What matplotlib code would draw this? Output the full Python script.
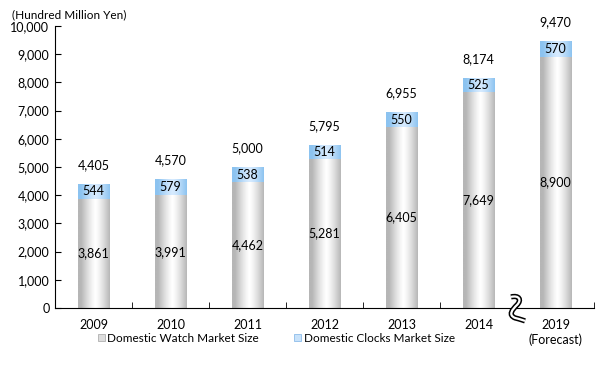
import matplotlib.pyplot as plt
import numpy as np
from matplotlib.patches import Rectangle, PathPatch
from matplotlib.path import Path

plt.rcParams['font.family'] = ['Lato', 'DejaVu Sans']

years = ['2009', '2010', '2011', '2012', '2013', '2014', '2019\n(Forecast)']
watch = [3861, 3991, 4462, 5281, 6405, 7649, 8900]
clocks = [544, 579, 538, 514, 550, 525, 570]
totals = [w + c for w, c in zip(watch, clocks)]

fig = plt.figure(figsize=(6.07, 3.67), dpi=100)
ax = fig.add_axes([0.0906, 0.161, 0.888, 0.768])

x = np.arange(len(years))
width = 0.41

# horizontal gradients: grey/white for watches, blue for clocks
t = np.linspace(0, 1, 256)
prof = np.clip(np.abs(t - 0.55) / 0.45, 0, 1) ** 1.3
grey = np.zeros((1, 256, 3))
for i, (edge, mid) in enumerate(zip((182, 182, 182), (255, 255, 255))):
    grey[0, :, i] = (mid + (edge - mid) * prof) / 255
blue = np.zeros((1, 256, 3))
for i, (edge, mid) in enumerate(zip((140, 195, 240), (215, 235, 255))):
    blue[0, :, i] = (mid + (edge - mid) * prof) / 255

b1 = ax.bar(x, watch, width, color='none', edgecolor='none')
b2 = ax.bar(x, clocks, width, bottom=watch, color='none', edgecolor='none')
for bars, grad in ((b1, grey), (b2, blue)):
    for r in bars:
        x0, y0 = r.get_x(), r.get_y()
        im = ax.imshow(grad, extent=(x0, x0 + r.get_width(), y0, y0 + r.get_height()),
                       aspect='auto', zorder=2, interpolation='bilinear')
        im.set_clip_path(r)

for i in range(len(years)):
    ax.text(x[i], watch[i] / 2, f'{watch[i]:,}', ha='center', va='center', fontsize=9, zorder=4)
    ax.text(x[i], watch[i] + clocks[i] / 2, f'{clocks[i]:,}', ha='center', va='center', fontsize=9, zorder=4)
    ax.annotate(f'{totals[i]:,}', (x[i], totals[i]), xytext=(0, 9), textcoords='offset points',
                ha='center', va='bottom', fontsize=9)

ax.set_xlim(-0.5, len(years) - 0.5)
ax.set_ylim(0, 10000)
ax.set_yticks(np.arange(0, 10001, 1000))
ax.set_yticklabels([f'{v:,}' for v in range(0, 10001, 1000)], fontsize=9)
ax.set_xticks(x)
ax.set_xticklabels(years, fontsize=9)
ax.set_xticks(np.arange(-0.5, len(years), 1), minor=True)
ax.tick_params(axis='x', which='major', length=0, pad=8)
ax.tick_params(axis='x', which='minor', direction='in', length=4)
ax.tick_params(axis='y', direction='in', length=4, pad=4)
for s in ('top', 'right'):
    ax.spines[s].set_visible(False)

# axis break mark between 2014 and 2019 (pixel offsets, y downward)
bx = (x[-2] + x[-1]) / 2
pts = [(-6, -12), (2, -14), (5, -9), (0, -4), (-5, 1), (-9, 6), (-2, 9), (2, 10), (5, 11), (8, 12)]
codes = [Path.MOVETO] + [Path.CURVE4] * 6 + [Path.CURVE3] * 2 + [Path.LINETO]
px_x = 1 / 77
px_y = 10000 / 282
verts = [(bx + dx * px_x, -(dy + 1) * px_y) for dx, dy in pts]
brk = Path(verts, codes)
ax.add_patch(PathPatch(brk, facecolor='none', edgecolor='black', lw=3.8, clip_on=False, zorder=5,
                       capstyle='butt'))
ax.add_patch(PathPatch(brk, facecolor='none', edgecolor='white', lw=1.6, clip_on=False, zorder=6,
                       capstyle='butt'))

ax.text(-0.08, 1.02, '(Hundred Million Yen)', transform=ax.transAxes, fontsize=8.5, ha='left', va='bottom')

h1 = Rectangle((0, 0), 1, 1, facecolor='#dcdcdc', edgecolor='#b0b0b0', lw=0.6)
h2 = Rectangle((0, 0), 1, 1, facecolor='#c8e2fa', edgecolor='#8cbcea', lw=0.6)
fig.legend([h1, h2], ['Domestic Watch Market Size', 'Domestic Clocks Market Size'],
           loc='lower center', bbox_to_anchor=(0.455, 0.035), ncol=2, frameon=False, fontsize=8.5,
           handlelength=0.6, handleheight=0.6, handletextpad=0.2, columnspacing=3)

fig.savefig('out.png', dpi=100)
